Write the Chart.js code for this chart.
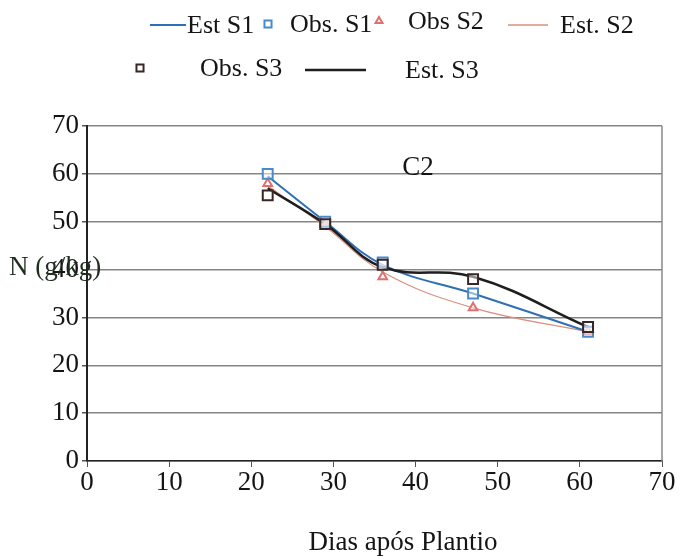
<!DOCTYPE html>
<html>
<head>
<meta charset="utf-8">
<script src="https://cdn.jsdelivr.net/npm/chart.js@4.4.1/dist/chart.umd.min.js"></script>
<style>
  html, body { margin: 0; padding: 0; background: #fff; }
  #wrap { width: 685px; height: 559px; position: relative; }
</style>
</head>
<body>
<div id="wrap"><canvas id="chart"></canvas></div>
<script>
// N content (g/kg) by days after planting, three treatments
const days = [22, 29, 36, 47, 61];
const obsS1 = [60, 50, 41.5, 35, 27];
const obsS2 = [58, 49, 38.5, 32, 27];
const obsS3 = [55.5, 49.5, 41, 38, 28];
const estS1 = [59.5, 50, 41, 35, 27];
const estS2 = [57.5, 49, 39.5, 32, 27];
const estS3 = [57, 49.5, 40.5, 38.5, 28];
const xTicks = [0, 10, 20, 30, 40, 50, 60, 70];
const yTicks = [0, 10, 20, 30, 40, 50, 60, 70];

const SERIF = '"Liberation Serif", "Times New Roman", serif';
const TEXT = '#151515';
const toPoints = vals => days.map((d, i) => ({ x: d, y: vals[i] }));

// where each legend entry sits above the plot
const legendSlots = [
    { label: 'Est S1', line: [150, 186], y: 25, textX: 187 },
    { label: 'Obs. S1', mark: 268, y: 24, textX: 290 },
    { label: 'Obs S2', mark: 379, y: 21, textX: 408 },
    { label: 'Est. S2', line: [508, 548], y: 25, textX: 560 },
    { label: 'Obs. S3', mark: 140, y: 68, textX: 200 },
    { label: 'Est. S3', line: [305, 366], y: 70, textX: 405 }
];

const annotations = {
    id: 'annotations',
    afterDraw(chart) {
        const ctx = chart.ctx;
        ctx.save();
        ctx.textBaseline = 'middle';

        // legend
        ctx.font = '26px ' + SERIF;
        legendSlots.forEach(slot => {
            const ds = chart.data.datasets.find(d => d.label === slot.label);
            if (slot.line) {
                ctx.strokeStyle = ds.borderColor;
                ctx.lineWidth = Math.max(1.5, ds.borderWidth);
                ctx.beginPath();
                ctx.moveTo(slot.line[0], slot.y);
                ctx.lineTo(slot.line[1], slot.y);
                ctx.stroke();
            } else {
                ctx.strokeStyle = ds.pointBorderColor;
                ctx.fillStyle = '#fff';
                ctx.lineWidth = 2;
                Chart.helpers.drawPoint(ctx, {
                    pointStyle: ds.pointStyle,
                    radius: ds.pointStyle === 'triangle' ? 4 : 5,
                    rotation: 0,
                    borderWidth: 2
                }, slot.mark, slot.y);
            }
            ctx.fillStyle = TEXT;
            ctx.textAlign = 'left';
            ctx.fillText(slot.label, slot.textX, slot.y + 1);
        });

        // panel label, axis titles
        ctx.font = '27px ' + SERIF;
        ctx.fillStyle = TEXT;
        ctx.textAlign = 'center';
        ctx.fillText('C2', 418, 168);
        ctx.fillText('Dias após Plantio', 403, 543);
        ctx.textAlign = 'left';
        ctx.fillStyle = '#1f2e1f';
        ctx.fillText('N (g/kg)', 9, 268);

        // right border of the plot
        const a = chart.chartArea;
        ctx.strokeStyle = '#888';
        ctx.lineWidth = 1.5;
        ctx.beginPath();
        ctx.moveTo(a.right, a.top);
        ctx.lineTo(a.right, a.bottom);
        ctx.stroke();
        ctx.restore();
    }
};

new Chart(document.getElementById('chart'), {
    type: 'scatter',
    data: {
        datasets: [
            {
                label: 'Obs. S3', data: toPoints(obsS3), showLine: false, order: 1,
                pointStyle: 'rect', pointRadius: 7, pointBorderWidth: 2,
                pointBorderColor: '#3a2626', pointBackgroundColor: 'rgba(255,255,255,0.5)',
                borderColor: '#3a2626'
            },
            {
                label: 'Obs. S1', data: toPoints(obsS1), showLine: false, order: 2,
                pointStyle: 'rect', pointRadius: 7, pointBorderWidth: 2,
                pointBorderColor: '#4a8ac8', pointBackgroundColor: 'rgba(255,255,255,0.5)',
                borderColor: '#4a8ac8'
            },
            {
                label: 'Obs S2', data: toPoints(obsS2), showLine: false, order: 3,
                pointStyle: 'triangle', pointRadius: 5, pointBorderWidth: 2,
                pointBorderColor: '#e07070', pointBackgroundColor: 'rgba(255,255,255,0.5)',
                borderColor: '#e07070'
            },
            {
                label: 'Est. S3', data: toPoints(estS3), showLine: true, order: 4,
                borderColor: '#1e1e1e', borderWidth: 2.5, tension: 0.4, pointRadius: 0
            },
            {
                label: 'Est S1', data: toPoints(estS1), showLine: true, order: 5,
                borderColor: '#2f6fb3', borderWidth: 2, tension: 0.4, pointRadius: 0
            },
            {
                label: 'Est. S2', data: toPoints(estS2), showLine: true, order: 6,
                borderColor: '#d9907e', borderWidth: 1.2, tension: 0.4, pointRadius: 0
            }
        ]
    },
    options: {
        responsive: true,
        maintainAspectRatio: false,
        animation: false,
        layout: { padding: { top: 126, right: 23, left: 0, bottom: 0 } },
        plugins: {
            legend: { display: false },
            tooltip: { enabled: false }
        },
        scales: {
            x: {
                type: 'linear',
                min: 0,
                max: 70,
                afterBuildTicks: axis => { axis.ticks = xTicks.map(v => ({ value: v })); },
                afterFit: axis => { axis.height = 98; },
                grid: {
                    drawOnChartArea: false,
                    tickLength: 6,
                    tickColor: '#555'
                },
                border: { color: '#222', width: 1.5 },
                ticks: {
                    color: TEXT,
                    padding: 0,
                    maxRotation: 0,
                    font: { family: SERIF, size: 27 }
                }
            },
            y: {
                min: 0,
                max: 70,
                afterBuildTicks: axis => { axis.ticks = yTicks.map(v => ({ value: v })); },
                afterFit: axis => { axis.width = 87; },
                grid: {
                    color: '#858585',
                    lineWidth: 1.5,
                    tickLength: 5,
                    tickColor: '#555'
                },
                border: { color: '#222', width: 2 },
                ticks: {
                    color: TEXT,
                    padding: 3,
                    font: { family: SERIF, size: 27 }
                }
            }
        }
    },
    plugins: [annotations]
});
</script>
</body>
</html>
